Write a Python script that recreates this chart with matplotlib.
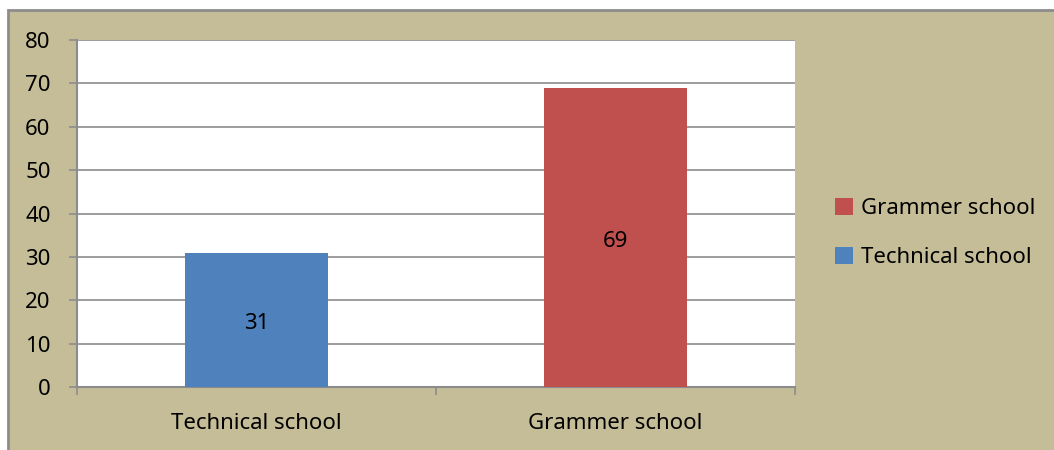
import matplotlib
matplotlib.use("Agg")
import matplotlib.pyplot as plt
from matplotlib.patches import Rectangle, Patch

categories = ["Technical school", "Grammer school"]
values = [31, 69]
colors = ["#4F81BD", "#C0504D"]
yticks = [0, 10, 20, 30, 40, 50, 60, 70, 80]

plt.rcParams['font.family'] = ['Noto Sans', 'DejaVu Sans']
fs = 16

fig = plt.figure(figsize=(10.54, 4.5), dpi=100, facecolor='white')
# chart area background with border
fig.patches.append(Rectangle((7.5 / 1054, -0.01), 1.02, 1 - 9.5 / 450 + 0.01,
                             transform=fig.transFigure, facecolor='#C4BD97',
                             edgecolor='#8C8C8C', linewidth=2, zorder=-5))

ax = fig.add_axes([77 / 1054, 1 - 387 / 450, (795 - 77) / 1054, (387 - 40) / 450])
ax.set_zorder(2)
ax.set_facecolor('white')

x = list(range(len(categories)))
bars = ax.bar(x, values, width=0.4, color=colors, zorder=3)
for b, v in zip(bars, values):
    ax.annotate(str(v), (b.get_x() + b.get_width() / 2, v / 2), xytext=(0, -4),
                textcoords='offset pixels', ha='center', va='center',
                fontsize=fs, color='black', zorder=4)

ax.set_xlim(-0.5, len(categories) - 0.5)
ax.set_ylim(0, 80)
ax.set_yticks(yticks)
ax.tick_params(axis='y', labelsize=fs)
ax.yaxis.grid(True, color='#8C8C8C', linewidth=1.2, zorder=1)
ax.set_axisbelow(True)

ax.set_xticks([i - 0.5 for i in range(len(categories) + 1)])
ax.set_xticklabels([])
ax.set_xticks(x, minor=True)
ax.set_xticklabels(categories, minor=True, fontsize=fs)
ax.tick_params(axis='x', which='minor', length=0, pad=19)
ax.tick_params(axis='x', which='major', length=6, color='#8C8C8C', width=1.2)
ax.tick_params(axis='y', length=6, color='#8C8C8C', width=1.2, pad=13)

for s in ['top', 'right']:
    ax.spines[s].set_visible(False)
for s in ['left', 'bottom']:
    ax.spines[s].set_color('#8C8C8C')
    ax.spines[s].set_linewidth(1.5)

handles = [Patch(facecolor=colors[1], label=categories[1]),
           Patch(facecolor=colors[0], label=categories[0])]
fig.legend(handles=handles, loc='center left', bbox_to_anchor=(815 / 1054, 1 - 233 / 450),
           frameon=False, handlelength=0.8, handleheight=0.8, handletextpad=0.35,
           labelspacing=1.25, fontsize=fs)

fig.savefig("out.png", dpi=100, facecolor=fig.get_facecolor())
